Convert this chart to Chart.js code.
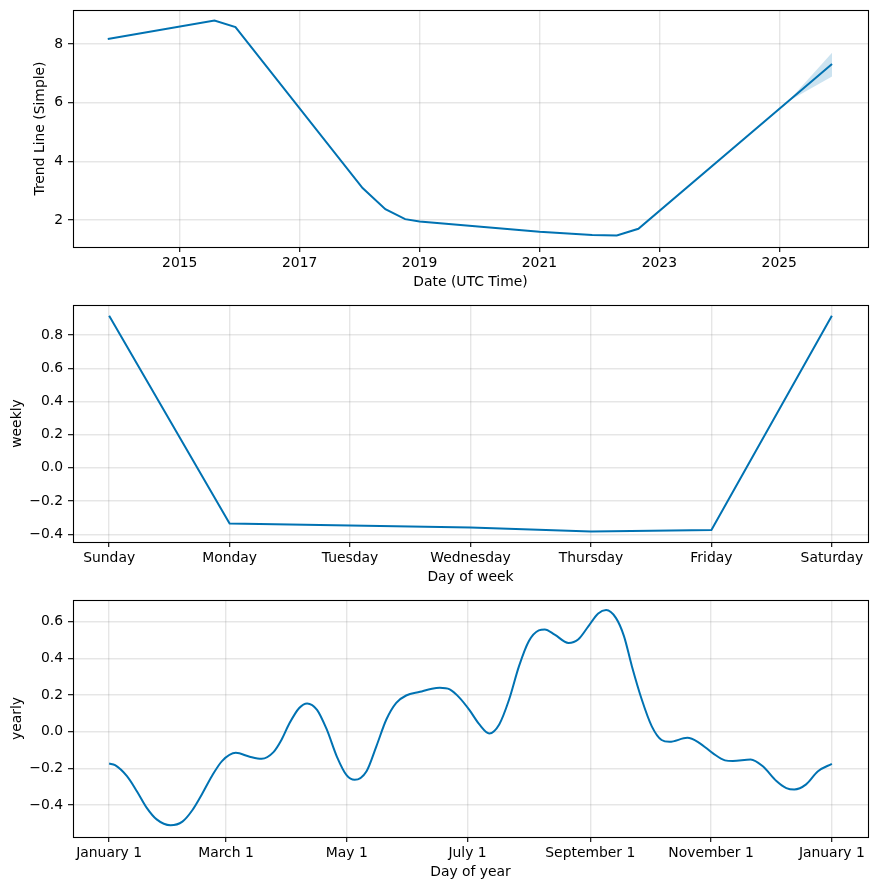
<!DOCTYPE html>
<html>
<head>
<meta charset="utf-8">
<script src="https://cdn.jsdelivr.net/npm/chart.js@4.4.0/dist/chart.umd.min.js"></script>
<style>
  html, body { margin: 0; padding: 0; background: #fff; }
  #wrap { position: relative; width: 878px; height: 890px; }
  canvas { position: absolute; left: 0; }
</style>
</head>
<body>
<div id="wrap">
  <canvas id="trend" width="878" height="295" style="top:0"></canvas>
  <canvas id="weekly" width="878" height="295" style="top:295px"></canvas>
  <canvas id="yearly" width="878" height="300" style="top:590px"></canvas>
</div>
<script>
// Trend panel (x = fractional year)
const trendDates = [2013.80, 2015.58, 2015.93, 2018.05, 2018.43, 2018.76, 2019.00, 2021.00, 2021.88, 2022.29, 2022.65, 2025.88];
const trendValues = [8.17, 8.80, 8.58, 3.09, 2.37, 2.03, 1.95, 1.60, 1.49, 1.475, 1.70, 7.32];
const bandDates = [2025.15, 2025.88];
const bandLower = [6.05, 6.89];
const bandUpper = [6.05, 7.70];
const trendYearTicks = [2015, 2017, 2019, 2021, 2023, 2025];
const trendValueTicks = [2, 4, 6, 8];

// Weekly panel
const weekDays = ['Sunday', 'Monday', 'Tuesday', 'Wednesday', 'Thursday', 'Friday', 'Saturday'];
const weeklyValues = [0.917, -0.335, -0.347, -0.359, -0.383, -0.375, 0.917];
const weeklyTicks = [-0.4, -0.2, 0, 0.2, 0.4, 0.6, 0.8];

// Yearly panel (x = day of year)
const yearDays = [0, 3, 9, 14, 19, 24, 31, 37, 42, 47, 52, 57, 64, 71, 77, 83, 87, 91, 96, 100,
  105, 110, 115, 120, 124, 130, 135, 140, 145, 150, 157, 163, 167, 172, 177, 182, 187, 192, 197, 202,
  207, 212, 217, 220, 225, 232, 237, 242, 247, 251, 256, 260, 264, 269, 274, 279, 283, 292, 298, 305,
  311, 315, 324, 330, 337, 342, 346, 352, 358, 365];
const yearlyValues = [-0.173, -0.182, -0.242, -0.324, -0.415, -0.478, -0.510, -0.490, -0.428, -0.338, -0.240, -0.160, -0.115, -0.136, -0.147, -0.111, -0.045, 0.045, 0.130, 0.155,
  0.120, 0.010, -0.135, -0.238, -0.262, -0.215, -0.078, 0.067, 0.158, 0.198, 0.218, 0.235, 0.240, 0.231, 0.185, 0.118, 0.040, -0.009, 0.040, 0.176,
  0.358, 0.495, 0.553, 0.558, 0.530, 0.485, 0.505, 0.575, 0.645, 0.664, 0.620, 0.522, 0.358, 0.176, 0.031, -0.045, -0.055, -0.033, -0.060, -0.118,
  -0.156, -0.160, -0.151, -0.187, -0.269, -0.307, -0.315, -0.287, -0.215, -0.175];
const monthTickDays = [0, 59, 120, 181, 243, 304, 365];
const monthTickLabels = ['January 1', 'March 1', 'May 1', 'July 1', 'September 1', 'November 1', 'January 1'];
const yearlyTicks = [-0.4, -0.2, 0, 0.2, 0.4, 0.6];

const BLUE = '#0072B2';
const GRID = 'rgba(128,128,128,0.2)';
const FONT = { family: 'DejaVu Sans', size: 13.9 };

Chart.defaults.font.family = 'DejaVu Sans';
Chart.defaults.color = '#000';

function fmt1(v) {
  const s = Math.abs(v).toFixed(1);
  return (v < -1e-9 ? '\u2212' : '') + s;
}

function pts(xs, ys) {
  return xs.map((x, i) => ({ x: x, y: ys[i] }));
}

// matplotlib draws all four spines
const frame = {
  id: 'frame',
  afterDraw(chart) {
    const { ctx, chartArea: a } = chart;
    ctx.save();
    ctx.strokeStyle = '#000';
    ctx.lineWidth = 1.1;
    ctx.strokeRect(Math.round(a.left) + 0.5, Math.round(a.top) + 0.5,
      Math.round(a.right - a.left), Math.round(a.bottom - a.top));
    ctx.restore();
  }
};

function gridOpts() {
  return { color: GRID, lineWidth: 1.4, tickColor: '#000', tickLength: 5, tickWidth: 1.1 };
}

function xAxis(min, max, ticks, label, title, height, titlePad) {
  return {
    type: 'linear', min: min, max: max,
    afterBuildTicks: (ax) => { ax.ticks = ticks.map(v => ({ value: v })); },
    afterFit: (ax) => { ax.height = height; ax.paddingLeft = 0; ax.paddingRight = 0; },
    ticks: { font: FONT, color: '#000', padding: 3, autoSkip: false, maxRotation: 0,
      callback: (v, i) => label(v, i) },
    grid: gridOpts(),
    border: { display: false },
    title: { display: true, text: title, font: FONT, color: '#000', padding: { top: 0, bottom: titlePad } }
  };
}

function yAxis(min, max, ticks, label, title, titlePad) {
  return {
    type: 'linear', min: min, max: max,
    afterBuildTicks: (ax) => { ax.ticks = ticks.map(v => ({ value: v })); },
    afterFit: (ax) => { ax.width = 73; ax.paddingTop = 0; ax.paddingBottom = 0; },
    ticks: { font: FONT, color: '#000', padding: 5, callback: (v) => label(v) },
    grid: gridOpts(),
    border: { display: false },
    title: { display: true, text: title, font: FONT, color: '#000', padding: { top: titlePad, bottom: 0 } }
  };
}

function baseOptions(scales) {
  return {
    responsive: false,
    animation: false,
    events: [],
    layout: { padding: { top: 10, right: 10, left: 0, bottom: 0 } },
    plugins: { legend: { display: false }, tooltip: { enabled: false } },
    scales: scales
  };
}

new Chart(document.getElementById('trend'), {
  type: 'line',
  data: {
    datasets: [{
      data: pts(trendDates, trendValues),
      borderColor: BLUE, borderWidth: 2, pointRadius: 0, tension: 0, fill: false
    }, {
      data: pts(bandDates, bandLower),
      borderColor: 'transparent', borderWidth: 0, pointRadius: 0, fill: false
    }, {
      data: pts(bandDates, bandUpper),
      borderColor: 'transparent', borderWidth: 0, pointRadius: 0,
      fill: '-1', backgroundColor: 'rgba(0,114,178,0.2)'
    }]
  },
  options: baseOptions({
    x: xAxis(2013.22, 2026.48, trendYearTicks, (v) => String(v), 'Date (UTC Time)', 48, 4),
    y: yAxis(1.08, 9.16, trendValueTicks, (v) => String(v), 'Trend Line (Simple)', 32.4)
  }),
  plugins: [frame]
});

new Chart(document.getElementById('weekly'), {
  type: 'line',
  data: {
    datasets: [{
      data: pts(weekDays.map((d, i) => i), weeklyValues),
      borderColor: BLUE, borderWidth: 2, pointRadius: 0, tension: 0, fill: false
    }]
  },
  options: baseOptions({
    x: xAxis(-0.3, 6.3, weekDays.map((d, i) => i), (v, i) => weekDays[i], 'Day of week', 48, 4),
    y: yAxis(-0.447, 0.982, weeklyTicks, fmt1, 'weekly', 9.2)
  }),
  plugins: [frame]
});

new Chart(document.getElementById('yearly'), {
  type: 'line',
  data: {
    datasets: [{
      data: pts(yearDays, yearlyValues),
      borderColor: BLUE, borderWidth: 2, pointRadius: 0,
      cubicInterpolationMode: 'monotone', fill: false
    }]
  },
  options: baseOptions({
    x: xAxis(-18.25, 383.25, monthTickDays, (v, i) => monthTickLabels[i], 'Day of year', 53, 9),
    y: yAxis(-0.574, 0.719, yearlyTicks, fmt1, 'yearly', 9.2)
  }),
  plugins: [frame]
});
</script>
</body>
</html>
